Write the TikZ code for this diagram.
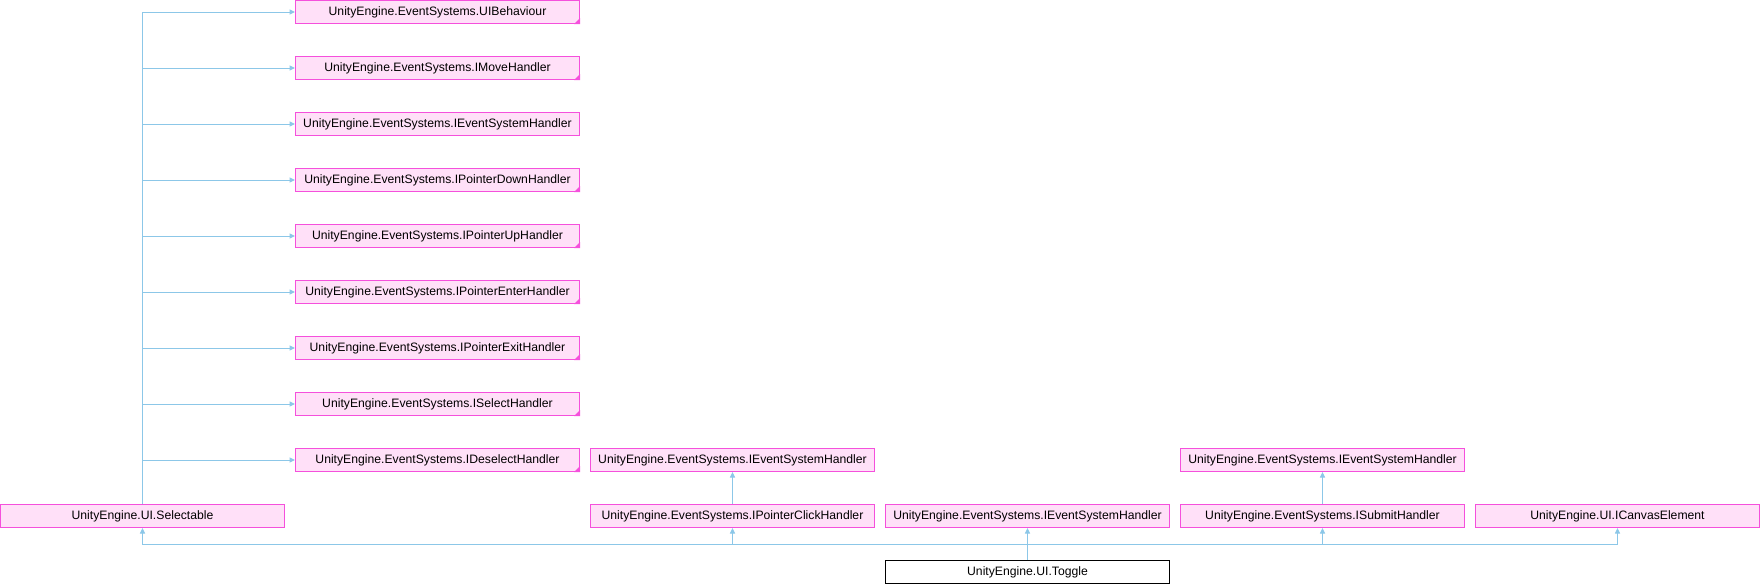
\documentclass[tikz,border=0pt]{standalone}
\usepackage{fontspec}
\setmainfont{Liberation Sans}
\usetikzlibrary{arrows.meta}
\definecolor{edgeblue}{RGB}{140,199,232}
\definecolor{boxborder}{RGB}{245,80,220}
\definecolor{boxfill}{RGB}{255,224,248}
\tikzset{
  cls/.style={rectangle, draw=boxborder, fill=boxfill, line width=1pt,
    minimum width=284pt, minimum height=23pt, inner sep=0pt, anchor=north west,
    font=\fontsize{12.2}{14}\selectfont},
  mainbox/.style={cls, draw=black, fill=white},
  inh/.style={draw=edgeblue, line width=1pt, -{Triangle[length=5.5pt,width=5pt]}},
  cornerfill/.style={fill=boxborder}
}
\newcommand{\cornermark}[1]{\fill[cornerfill] (#1.south east) -- ++(-6,0) -- ++(6,-6) -- cycle;}
\begin{document}
\begin{tikzpicture}[x=1pt,y=-1pt]
\useasboundingbox (0,0) rectangle (1760,584);
% left column of parents
\node[cls] (uib)  at (295,0)   {UnityEngine.EventSystems.UIBehaviour};
\node[cls] (move) at (295,56)  {UnityEngine.EventSystems.IMoveHandler};
\node[cls] (esa)  at (295,112) {UnityEngine.EventSystems.IEventSystemHandler};
\node[cls] (pdown) at (295,168) {UnityEngine.EventSystems.IPointerDownHandler};
\node[cls] (pup)  at (295,224) {UnityEngine.EventSystems.IPointerUpHandler};
\node[cls] (penter) at (295,280) {UnityEngine.EventSystems.IPointerEnterHandler};
\node[cls] (pexit) at (295,336) {UnityEngine.EventSystems.IPointerExitHandler};
\node[cls] (sel1) at (295,392) {UnityEngine.EventSystems.ISelectHandler};
\node[cls] (desel) at (295,448) {UnityEngine.EventSystems.IDeselectHandler};
% row 8 others
\node[cls] (esb)  at (590,448)  {UnityEngine.EventSystems.IEventSystemHandler};
\node[cls] (esd)  at (1180,448) {UnityEngine.EventSystems.IEventSystemHandler};
% row 9
\node[cls] (selectable) at (0,504) {UnityEngine.UI.Selectable};
\node[cls] (pclick) at (590,504)  {UnityEngine.EventSystems.IPointerClickHandler};
\node[cls] (esc)  at (885,504)  {UnityEngine.EventSystems.IEventSystemHandler};
\node[cls] (submit) at (1180,504) {UnityEngine.EventSystems.ISubmitHandler};
\node[cls] (canvas) at (1475,504) {UnityEngine.UI.ICanvasElement};
% main class
\node[mainbox] (toggle) at (885,560) {UnityEngine.UI.Toggle};
% corner marks
\foreach \n in {uib,move,pdown,pup,penter,pexit,sel1,desel} {\cornermark{\n}}
% connectors from Selectable
\foreach \n in {uib,move,esa,pdown,pup,penter,pexit,sel1,desel} {
  \draw[inh] (selectable.north) |- (\n.west);
}
\draw[inh] (pclick.north) -- (esb.south);
\draw[inh] (submit.north) -- (esd.south);
% connectors from Toggle
\coordinate (bus) at (1027,544);
\draw[inh] (toggle.north) -- (esc.south);
\draw[inh] (bus) -| (selectable.south);
\draw[inh] (bus) -| (pclick.south);
\draw[inh] (bus) -| (submit.south);
\draw[inh] (bus) -| (canvas.south);
\end{tikzpicture}
\end{document}
